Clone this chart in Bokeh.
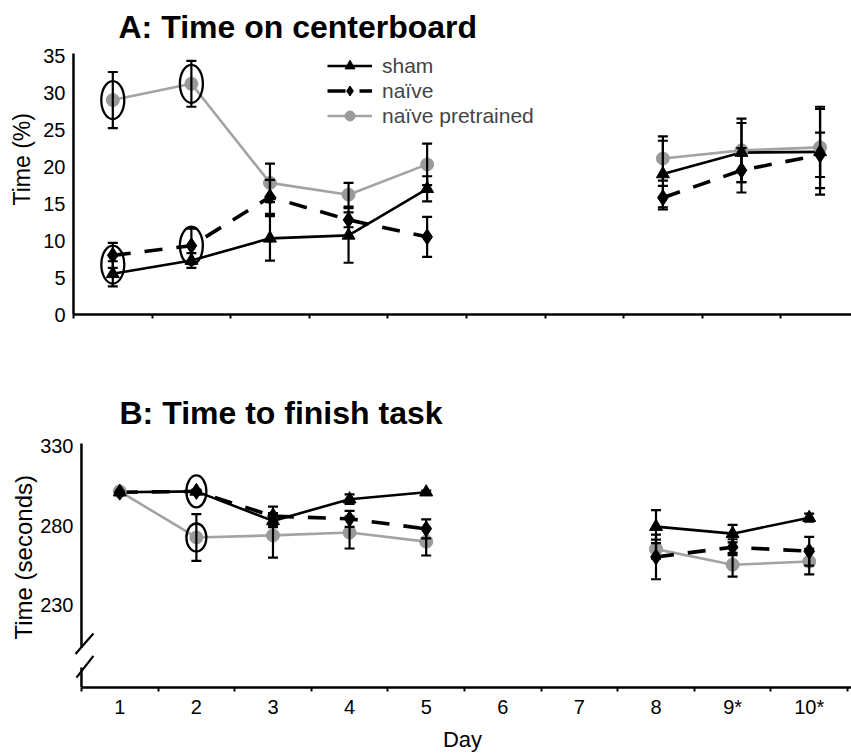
import math
from bokeh.plotting import figure
from bokeh.models import (ColumnDataSource, Whisker, TeeHead, Legend, LegendItem,
                          FixedTicker, Range1d, Title)
from bokeh.layouts import column
from bokeh.embed import file_html
from bokeh.resources import INLINE

# ---------------- data ----------------
days = [1, 2, 3, 4, 5, 8, 9, 10]
tick_days = [1, 2, 3, 4, 5, 6, 7, 8, 9, 10]
tick_labels = ["1", "2", "3", "4", "5", "6", "7", "8", "9*", "10*"]

# Panel A: Time on centerboard (%)
a_sham = [5.5, 7.3, 10.3, 10.7, 17.0, 19.0, 21.9, 22.0]
a_sham_err = [1.7, 1.0, 3.0, 3.7, 1.7, 4.5, 4.0, 5.8]
a_naive = [8.0, 9.3, 15.9, 12.8, 10.5, 15.8, 19.5, 21.6]
a_naive_err = [1.7, 2.3, 2.3, 1.0, 2.7, 1.6, 3.0, 3.0]
a_pre = [29.0, 31.2, 17.8, 16.2, 20.3, 21.1, 22.2, 22.6]
a_pre_err = [3.8, 3.1, 2.6, 1.6, 2.8, 3.0, 4.3, 5.5]

# Panel B: Time to finish task (seconds)
b_sham = [301.0, 301.5, 283.0, 296.6, 301.0, 279.4, 275.0, 285.0]
b_sham_err = [0, 1.0, 4.0, 3.0, 1.0, 10.4, 5.5, 2.5]
b_naive = [301.0, 301.5, 286.0, 284.3, 278.0, 260.4, 266.5, 264.0]
b_naive_err = [0, 1.0, 6.0, 5.0, 6.0, 14.0, 5.0, 9.0]
b_pre = [301.5, 272.6, 273.9, 275.7, 270.0, 265.3, 255.5, 257.5]
b_pre_err = [0, 14.7, 14.0, 10.0, 8.7, 6.0, 7.5, 8.0]

FONT = "Liberation Sans"
GREY_LINE = "#a3a3a3"
GREY_MARK = "#9a9a9a"


def with_gaps(xs, ys):
    ox, oy = [], []
    for i, (x, y) in enumerate(zip(xs, ys)):
        if i > 0 and x - xs[i - 1] > 1:
            ox.append(float("nan"))
            oy.append(float("nan"))
        ox.append(x)
        oy.append(y)
    return ox, oy


def add_err(p, xs, ys, errs):
    xx, up, lo = [], [], []
    for x, y, e in zip(xs, ys, errs):
        if e > 0:
            xx.append(x); up.append(y + e); lo.append(y - e)
    src = ColumnDataSource(dict(x=xx, upper=up, lower=lo))
    w = Whisker(base="x", upper="upper", lower="lower", source=src,
                line_width=2.2, line_color="black", level="annotation",
                upper_head=TeeHead(size=10, line_width=2.2, line_color="black"),
                lower_head=TeeHead(size=10, line_width=2.2, line_color="black"))
    p.add_layout(w)


def style(p):
    p.grid.visible = False
    p.outline_line_color = None
    p.background_fill_color = "white"
    p.border_fill_color = "white"
    for ax in (p.xaxis[0], p.yaxis[0]):
        ax.axis_line_width = 2.5
        ax.axis_line_color = "black"
        ax.major_label_text_font = FONT
        ax.major_label_text_color = "black"
        ax.major_tick_line_color = None
        ax.major_tick_out = 0
        ax.major_tick_in = 0
    p.xaxis.minor_tick_line_color = "black"
    p.xaxis.minor_tick_line_width = 2
    p.xaxis.minor_tick_out = 4
    p.xaxis.minor_tick_in = 0
    p.yaxis.minor_tick_line_color = None
    p.title.text_font = FONT
    p.title.text_font_size = "32px"
    p.title.text_font_style = "bold"
    p.title.text_color = "black"
    p.title.align = "left"
    p.title.vertical_align = "top"
    p.title.standoff = 13


def draw_series(p, xs, sham, naive, pre):
    sx, sy = with_gaps(xs, sham)
    nx, ny = with_gaps(xs, naive)
    px, py = with_gaps(xs, pre)
    r_pl = p.line(px, py, line_color=GREY_LINE, line_width=2.6)
    r_sl = p.line(sx, sy, line_color="black", line_width=2.6)
    r_nl = p.line(nx, ny, line_color="black", line_width=3.6, line_dash="18 14")
    r_pm = p.scatter(xs, pre, marker="circle", size=13, fill_color=GREY_MARK, line_color=GREY_MARK)
    r_sm = p.scatter(xs, sham, marker="triangle", size=13, fill_color="black", line_color="black")
    r_nm = p.scatter(xs, naive, marker="diamond", size=16, fill_color="black", line_color="black")
    return (r_sl, r_sm), (r_nl, r_nm), (r_pl, r_pm)


def ylabel(p, text, size, offset, standoff):
    p.add_layout(Title(text=text, align="left", offset=offset, standoff=standoff,
                       text_font=FONT, text_font_size=size, text_font_style="normal",
                       text_color="black"), "left")


# ---------------- panel A ----------------
pa = figure(width=851, height=336, output_backend="svg", toolbar_location=None,
            title="A: Time on centerboard",
            x_range=Range1d(0.5, 10.40), y_range=Range1d(0, 35.3),
            min_border_left=73, min_border_right=0, min_border_top=53, min_border_bottom=22)
style(pa)
pa.title.offset = 45
pa.yaxis.ticker = FixedTicker(ticks=[0, 5, 10, 15, 20, 25, 30, 35])
pa.yaxis.major_label_standoff = 8
pa.yaxis.major_label_text_font_size = "20px"
pa.xaxis.ticker = FixedTicker(ticks=[], minor_ticks=[d + 0.5 for d in range(0, 11)])
ylabel(pa, "Time (%)", "23px", 109, 12)

sA, nA, prA = draw_series(pa, days, a_sham, a_naive, a_pre)
add_err(pa, days, a_sham, a_sham_err)
add_err(pa, days, a_naive, a_naive_err)
add_err(pa, days, a_pre, a_pre_err)

# highlighted points (days 1 and 2)
ell_x = [1, 2, 1, 2]
ell_y = [a_pre[0], a_pre[1], (a_sham[0] + a_naive[0]) / 2, a_naive[1]]
pa.ellipse(ell_x, ell_y, width=23, height=38, width_units="screen", height_units="screen",
           fill_color=None, line_color="black", line_width=2.3)

legA = Legend(items=[LegendItem(label="sham", renderers=list(sA)),
                     LegendItem(label="naïve", renderers=list(nA)),
                     LegendItem(label="naïve pretrained", renderers=list(prA))],
              location=(254, 186), padding=0, margin=0, spacing=0,
              border_line_color=None, background_fill_alpha=0,
              label_height=25, glyph_height=25, glyph_width=45, label_standoff=10,
              label_text_font_size="21px", label_text_font=FONT)
pa.add_layout(legA)

# ---------------- panel B ----------------
b_x0, b_y0, b_y1 = 0.396, 178.5, 332.8
pb = figure(width=851, height=418, output_backend="svg", toolbar_location=None,
            title="B: Time to finish task",
            x_range=Range1d(b_x0, 10.552), y_range=Range1d(b_y0, b_y1),
            min_border_left=69, min_border_right=0, min_border_top=105, min_border_bottom=62)
style(pb)
pb.title.offset = 46
pb.title.standoff = 18
pb.yaxis.ticker = FixedTicker(ticks=[230, 280, 330])
pb.yaxis.axis_line_color = None
pb.yaxis.major_label_standoff = 0
pb.yaxis.major_label_text_font_size = "20px"
pb.xaxis.bounds = (0.5, 10.552)
pb.xaxis.ticker = FixedTicker(ticks=tick_days, minor_ticks=[d + 0.5 for d in range(0, 11)])
pb.xaxis.major_label_overrides = {d: t for d, t in zip(tick_days, tick_labels)}
pb.xaxis.major_label_standoff = 4
pb.xaxis.major_label_text_font_size = "20px"
pb.xaxis.axis_label = "Day"
pb.xaxis.axis_label_text_font = FONT
pb.xaxis.axis_label_text_font_size = "22px"
pb.xaxis.axis_label_text_font_style = "normal"
pb.xaxis.axis_label_text_color = "black"
pb.xaxis.axis_label_standoff = 6
ylabel(pb, "Time (seconds)", "24px", 48, 2)

# y-axis line drawn at x = 0.5 with a break near the bottom
gap_lo, gap_hi = 191.0, 203.5
pb.segment(x0=[0.5, 0.5], y0=[b_y0, gap_hi], x1=[0.5, 0.5], y1=[gap_lo, 331.5],
           line_color="black", line_width=2.5)
pb.segment(x0=[0.422, 0.435], y0=[199.5, 184.7], x1=[0.656, 0.656], y1=[212.4, 198.3],
           line_color="black", line_width=2.2)

sB, nB, prB = draw_series(pb, days, b_sham, b_naive, b_pre)
add_err(pb, days, b_sham, b_sham_err)
add_err(pb, days, b_naive, b_naive_err)
add_err(pb, days, b_pre, b_pre_err)

pb.ellipse([2, 2], [b_naive[1], b_pre[1]], width=20, height=[32, 28],
           width_units="screen", height_units="screen",
           fill_color=None, line_color="black", line_width=2.3)

layout = column(pa, pb, spacing=0)
open("out.html", "w").write(file_html(layout, INLINE))
